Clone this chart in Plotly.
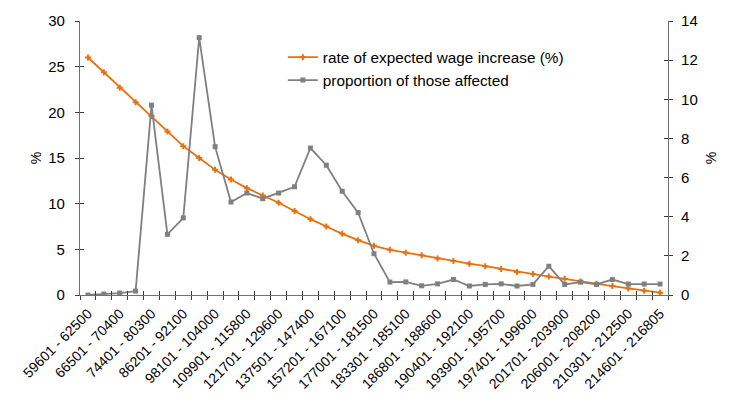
import plotly.graph_objects as go

# Income bands (every other one is labelled on the axis)
categories = [
    "59601 - 62500", "62501 - 66500", "66501 - 70400", "70401 - 74400",
    "74401 - 80300", "80301 - 86200", "86201 - 92100", "92101 - 98100",
    "98101 - 104000", "104001 - 109900", "109901 - 115800", "115801 - 121700",
    "121701 - 129600", "129601 - 137500", "137501 - 147400", "147401 - 157200",
    "157201 - 167100", "167101 - 177000", "177001 - 181500", "181501 - 183300",
    "183301 - 185100", "185101 - 186800", "186801 - 188600", "188601 - 190400",
    "190401 - 192100", "192101 - 193900", "193901 - 195700", "195701 - 197400",
    "197401 - 199600", "199601 - 201700", "201701 - 203900", "203901 - 206000",
    "206001 - 208200", "208201 - 210300", "210301 - 212500", "212501 - 214600",
    "214601 - 216805",
]

# Rate of expected wage increase (%), left axis
wage_increase = [
    26.0, 24.4, 22.7, 21.1, 19.6, 17.9, 16.3, 15.0, 13.7, 12.65,
    11.7, 10.9, 10.1, 9.2, 8.3, 7.5, 6.7, 6.0, 5.39, 4.95,
    4.63, 4.34, 4.01, 3.72, 3.43, 3.15, 2.86, 2.53, 2.31, 2.02,
    1.77, 1.48, 1.23, 0.98, 0.72, 0.47, 0.25,
]

# Proportion of those affected (%), right axis
affected = [
    0.0, 0.05, 0.1, 0.2, 9.7, 3.1, 3.94, 13.15, 7.58, 4.75,
    5.21, 4.92, 5.21, 5.53, 7.51, 6.63, 5.3, 4.21, 2.11, 0.66,
    0.67, 0.47, 0.57, 0.79, 0.46, 0.54, 0.57, 0.46, 0.54, 1.47,
    0.54, 0.66, 0.54, 0.79, 0.56, 0.56, 0.56,
]

left_ticks = [0, 5, 10, 15, 20, 25, 30]
right_ticks = [0, 2, 4, 6, 8, 10, 12, 14]

ORANGE = "#E8700E"
GREY = "#808080"
AXIS = "#707070"
TICK = "#3A3A3A"
FONT = "Liberation Sans, Arial, sans-serif"

idx = list(range(len(categories)))
bounds = [i - 0.5 for i in range(len(categories) + 1)]
xrange_ = [-0.5, len(categories) - 0.5]

fig = go.Figure()
fig.add_trace(go.Scatter(
    x=idx, y=wage_increase, name="rate of expected wage increase (%)",
    mode="lines+markers", yaxis="y",
    line=dict(color=ORANGE, width=1.8),
    marker=dict(symbol="cross", size=5, color=ORANGE),
))
fig.add_trace(go.Scatter(
    x=idx, y=affected, name="proportion of those affected",
    mode="lines+markers", yaxis="y2",
    line=dict(color=GREY, width=1.8),
    marker=dict(symbol="square", size=5, color=GREY),
))

# Hidden carriers so the helper axes (used for crossing tick marks) get drawn
for xa, ya in [("x3", "y"), ("x4", "y"), ("x", "y3"), ("x", "y4")]:
    fig.add_trace(go.Scatter(
        x=idx, y=wage_increase, xaxis=xa, yaxis=ya, mode="none",
        showlegend=False, hoverinfo="skip",
    ))

helper = dict(showgrid=False, zeroline=False, tickcolor=TICK, tickwidth=1,
              ticklen=4, showticklabels=False, showline=False,
              tickmode="array")

fig.update_layout(
    width=729, height=410,
    margin=dict(l=80, r=60, t=19, b=115, pad=0),
    paper_bgcolor="white", plot_bgcolor="white",
    font=dict(family=FONT, size=14, color="#000000"),
    showlegend=True,
    legend=dict(
        x=0.345, y=0.928, xanchor="left", yanchor="top",
        bgcolor="rgba(0,0,0,0)", font=dict(size=15.3),
        itemwidth=30, tracegroupgap=0,
    ),
    xaxis=dict(
        range=xrange_, tickmode="array", tickvals=idx[::2],
        ticktext=categories[::2], tickangle=-45, ticks="",
        ticklabelstandoff=4,
        showline=True, linecolor=AXIS, linewidth=1.2,
        tickfont=dict(size=14), showgrid=False, zeroline=False,
    ),
    xaxis3=dict(overlaying="x", anchor="y", range=xrange_, tickvals=bounds,
                ticks="outside", **helper),
    xaxis4=dict(overlaying="x", anchor="y", range=xrange_, tickvals=bounds,
                ticks="inside", **helper),
    yaxis=dict(
        range=[0, 30], tickmode="array", tickvals=left_ticks, ticks="outside",
        ticklen=4, tickcolor=TICK, ticklabelstandoff=7,
        showline=True, linecolor=AXIS, linewidth=1.2,
        showgrid=False, zeroline=False,
        title=dict(text="%", standoff=3, font=dict(size=14)),
        tickfont=dict(size=15),
    ),
    yaxis3=dict(overlaying="y", side="left", anchor="x", range=[0, 30],
                tickvals=left_ticks, ticks="inside", **helper),
    yaxis2=dict(
        overlaying="y", side="right", anchor="x", range=[0, 14],
        tickmode="array", tickvals=right_ticks, ticks="outside",
        ticklen=4, tickcolor=TICK, ticklabelstandoff=5,
        showline=True, linecolor=AXIS, linewidth=1.2,
        showgrid=False, zeroline=False,
        title=dict(text="%", standoff=9, font=dict(size=14)),
        tickfont=dict(size=15),
    ),
    yaxis4=dict(overlaying="y", side="right", anchor="x", range=[0, 14],
                tickvals=right_ticks, ticks="inside", **helper),
)

fig.write_html("out.html")
